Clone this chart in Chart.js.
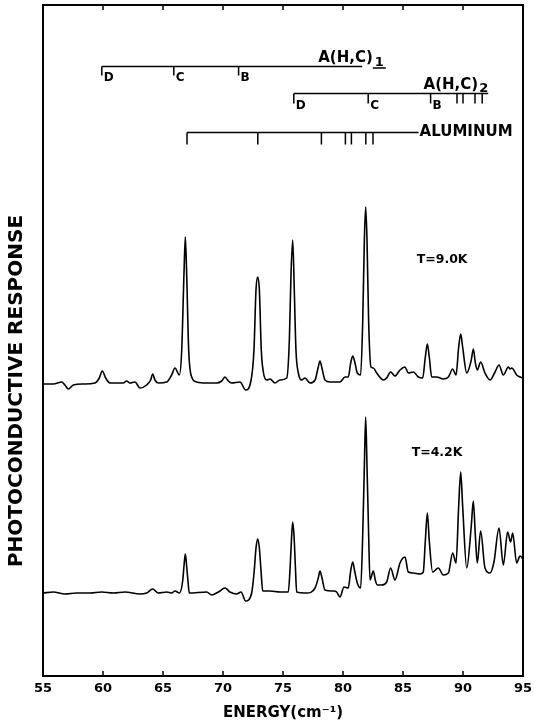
<!DOCTYPE html>
<html><head><meta charset="utf-8">
<script src="https://cdn.jsdelivr.net/npm/chart.js@4"></script>
<style>html,body{margin:0;padding:0;background:#fff}#wrap{width:534px;height:727px}</style>
</head><body><div id="wrap"><canvas id="c" width="534" height="727"></canvas></div>
<script>
// Photoconductive response spectra (arbitrary units, offset traces)
const energy9K = [55.0,55.86,56.56,56.83,57.11,57.53,58.36,59.33,59.69,59.94,
60.22,60.58,61.69,61.97,62.25,62.67,63.08,63.64,63.97,64.14,
64.33,64.61,65.31,65.72,66.0,66.36,66.56,66.75,66.86,66.97,
67.14,67.39,67.81,68.64,69.47,69.89,70.17,70.44,70.72,71.42,
71.89,72.31,72.58,72.75,72.89,73.03,73.19,73.36,73.64,73.92,
74.33,74.75,75.31,75.53,75.67,75.81,75.94,76.08,76.28,76.56,
76.83,77.25,77.67,77.94,78.08,78.28,78.5,78.92,79.75,80.17,
80.44,80.64,80.81,81.0,81.19,81.47,81.64,81.78,81.89,82.0,
82.14,82.33,82.53,82.81,83.36,83.64,83.97,84.33,84.75,85.17,
85.44,85.86,86.28,86.64,86.86,87.03,87.19,87.39,87.81,88.36,
88.78,89.14,89.42,89.64,89.81,89.97,90.31,90.69,90.86,91.03,
91.19,91.47,91.83,92.25,92.67,93.0,93.36,93.78,93.92,94.06,
94.47,94.75,95.0];
const response9K = [29.2,29.2,29.4,29.1,28.7,29.1,29.2,29.3,29.8,30.5,
29.8,29.3,29.3,29.5,29.3,29.4,28.8,29.1,29.6,30.2,
29.6,29.3,29.4,30.1,30.8,30.1,32.6,40.3,43.9,40.3,
32.6,29.9,29.4,29.3,29.3,29.5,29.9,29.5,29.3,29.4,
28.6,29.4,32.6,38.6,39.9,38.6,32.6,30.4,29.6,29.7,
29.3,29.6,29.8,33.6,40.3,43.6,38.6,32.6,30.3,29.6,
29.8,29.3,29.6,30.9,31.5,30.6,29.6,29.4,29.4,29.9,
29.9,31.3,32.0,31.3,30.3,30.1,35.3,43.6,46.9,43.6,
35.3,30.9,30.8,30.3,29.6,29.8,30.4,30.0,30.6,30.9,
30.3,30.4,29.9,29.8,31.9,33.2,31.9,29.9,29.9,29.7,
29.9,30.7,30.1,32.9,34.2,32.9,30.3,31.6,32.7,31.3,
30.6,31.4,30.3,29.6,30.4,31.1,30.1,30.9,30.7,30.8,
30.1,29.9,29.8];

const energy42K = [55.0,55.86,56.83,57.8,58.92,59.89,60.86,61.83,63.08,63.64,
64.14,64.61,65.31,65.72,66.0,66.36,66.64,66.75,66.86,66.97,
67.08,67.19,68.64,69.06,69.61,70.17,70.58,71.14,71.5,71.89,
72.39,72.6,72.75,72.89,73.03,73.17,73.31,73.92,74.75,75.44,
75.6,75.72,75.81,75.92,76.03,76.14,76.97,77.67,77.94,78.08,
78.25,78.5,79.19,79.47,79.75,80.08,80.44,80.64,80.81,80.97,
81.19,81.47,81.64,81.78,81.89,82.0,82.14,82.25,82.53,82.69,
82.86,83.22,83.64,83.97,84.33,84.75,85.17,85.44,85.86,86.42,
86.69,86.86,87.03,87.19,87.47,87.94,88.36,88.78,89.14,89.42,
89.64,89.81,89.97,90.31,90.69,90.86,91.03,91.19,91.47,91.83,
92.25,92.58,93.0,93.36,93.72,93.97,94.14,94.47,94.75,95.0];
const response42K = [8.3,8.4,8.2,8.3,8.3,8.4,8.3,8.4,8.2,8.3,
8.7,8.3,8.4,8.3,8.5,8.3,9.5,11.0,12.2,11.0,
9.5,8.3,8.4,8.1,8.4,8.8,8.4,8.2,8.4,7.5,
8.3,10.5,12.8,13.7,12.8,10.5,8.5,8.5,8.4,8.4,
11.0,14.0,15.4,14.0,11.0,8.4,8.3,8.8,9.8,10.5,
9.8,8.6,8.5,8.4,7.9,8.9,8.8,10.5,11.4,10.5,
9.3,8.8,14.0,21.0,25.9,21.0,14.0,9.6,10.5,9.6,
9.1,9.1,9.4,10.8,9.6,11.3,11.9,10.4,10.3,10.2,
10.4,13.5,16.3,13.5,10.4,10.8,10.1,10.3,12.3,11.3,
17.0,20.4,17.0,10.8,15.0,17.5,14.0,11.3,14.5,10.8,
10.3,11.4,14.8,11.1,14.4,13.4,14.3,11.3,12.0,11.7];

// Axis
const xMin = 55, xMax = 95, xStep = 5;
const yMin = 0, yMax = 67.1;

// Line-position markers (cm^-1)
const ahc1Ticks = [59.9, 65.9, 71.3];
const ahc1Labels = ['D', 'C', 'B'];
const ahc1End = 81.6;
const ahc1Level = 61.0;
const ahc2Ticks = [75.9, 82.1, 87.3, 89.5, 90.0, 91.0, 91.6];
const ahc2Labels = ['D', 'C', 'B'];
const ahc2End = 92.1;
const ahc2Level = 58.3;
const alTicks = [67.0, 72.9, 78.2, 80.2, 80.7, 81.9, 82.5];
const alEnd = 86.3;
const alLevel = 54.4;

const tempLabels = ['T=9.0K', 'T=4.2K'];
const tempLabelX = [86.14, 85.72];
const tempLabelY = [41.6, 22.3];

const FONT = '"DejaVu Sans", "Liberation Sans", Arial, sans-serif';

const toXY = (xs, ys) => xs.map((v, i) => ({x: v, y: ys[i]}));

const decor = {
  id: 'decor',
  afterDraw(chart) {
    const {ctx, chartArea: a, scales: {x, y}} = chart;
    ctx.save();
    ctx.strokeStyle = '#000';
    ctx.fillStyle = '#000';
    // frame
    ctx.lineWidth = 2;
    ctx.strokeRect(a.left, a.top, a.right - a.left, a.bottom - a.top);
    // inward ticks top & bottom
    ctx.lineWidth = 1.5;
    x.ticks.forEach(t => {
      if (t.value <= xMin || t.value >= xMax) return;
      const px = x.getPixelForValue(t.value);
      ctx.beginPath();
      ctx.moveTo(px, a.bottom); ctx.lineTo(px, a.bottom - 5);
      ctx.moveTo(px, a.top); ctx.lineTo(px, a.top + 5);
      ctx.stroke();
    });
    // y title
    ctx.save();
    ctx.translate(17, 391);
    ctx.rotate(-Math.PI / 2);
    ctx.font = 'bold 20px ' + FONT;
    ctx.textAlign = 'center';
    ctx.textBaseline = 'middle';
    ctx.fillText('PHOTOCONDUCTIVE RESPONSE', 0, 0);
    ctx.restore();

    function bar(start, end, level, ticks, labels, tickLen, labOff) {
      const yy = Math.round(y.getPixelForValue(level)) + 0.5;
      ctx.lineWidth = 1.5;
      ctx.beginPath();
      ctx.moveTo(x.getPixelForValue(start), yy);
      ctx.lineTo(x.getPixelForValue(end), yy);
      ctx.stroke();
      ticks.forEach((t, i) => {
        const xx = x.getPixelForValue(t);
        ctx.beginPath();
        ctx.moveTo(xx, yy); ctx.lineTo(xx, yy + tickLen);
        ctx.stroke();
        if (labels[i]) {
          ctx.font = 'bold 12px ' + FONT;
          ctx.textAlign = 'left';
          ctx.textBaseline = 'top';
          ctx.fillText(labels[i], xx + 2, yy + labOff);
        }
      });
      return yy;
    }
    // A(H,C)1
    const y1 = bar(ahc1Ticks[0], ahc1End, ahc1Level, ahc1Ticks, ahc1Labels, 9, 5);
    ctx.font = 'bold 15px ' + FONT;
    ctx.textAlign = 'left';
    ctx.textBaseline = 'alphabetic';
    const t1x = x.getPixelForValue(ahc1End) - 44;
    ctx.fillText('A(H,C)', t1x, y1 - 5);
    const w1 = ctx.measureText('A(H,C)').width;
    ctx.font = 'bold 13px ' + FONT;
    ctx.fillText('1', t1x + w1 + 2, y1 - 1);
    const s1 = ctx.measureText('1').width;
    ctx.beginPath();
    ctx.moveTo(t1x + w1, y1 + 1.5); ctx.lineTo(t1x + w1 + s1 + 4, y1 + 1.5);
    ctx.stroke();
    // A(H,C)2
    const y2 = bar(ahc2Ticks[0], ahc2End, ahc2Level, ahc2Ticks, ahc2Labels, 10, 6);
    ctx.font = 'bold 15px ' + FONT;
    ctx.textBaseline = 'alphabetic';
    const w2 = ctx.measureText('A(H,C)').width;
    ctx.font = 'bold 13px ' + FONT;
    const s2 = ctx.measureText('2').width;
    const t2x = x.getPixelForValue(ahc2End) - s2 - w2 - 1;
    ctx.fillText('2', t2x + w2 + 1, y2 - 2);
    ctx.font = 'bold 15px ' + FONT;
    ctx.fillText('A(H,C)', t2x, y2 - 5);
    // Aluminum
    const y3 = bar(alTicks[0], alEnd, alLevel, alTicks, [], 12, 0);
    ctx.font = 'bold 15px ' + FONT;
    ctx.textBaseline = 'middle';
    ctx.fillText('ALUMINUM', x.getPixelForValue(alEnd) + 1, y3);
    // temperatures
    ctx.font = 'bold 12.5px ' + FONT;
    tempLabels.forEach((s, i) => {
      ctx.fillText(s, x.getPixelForValue(tempLabelX[i]), y.getPixelForValue(tempLabelY[i]));
    });
    ctx.restore();
  }
};

new Chart(document.getElementById('c'), {
  type: 'line',
  data: {
    datasets: [
      {label: 'T=9.0K', data: toXY(energy9K, response9K), borderColor: '#000', borderWidth: 1.6, pointRadius: 0, fill: false, cubicInterpolationMode: 'monotone'},
      {label: 'T=4.2K', data: toXY(energy42K, response42K), borderColor: '#000', borderWidth: 1.6, pointRadius: 0, fill: false, cubicInterpolationMode: 'monotone'}
    ]
  },
  options: {
    responsive: false, animation: false, devicePixelRatio: 1,
    layout: {padding: {top: 5, right: 11, left: 0, bottom: 0}},
    plugins: {legend: {display: false}, tooltip: {enabled: false}},
    scales: {
      x: {
        type: 'linear', min: xMin, max: xMax,
        afterFit(s) { s.height = 51; s.paddingLeft = 0; s.paddingRight = 0; },
        border: {display: false},
        grid: {display: false, drawTicks: false},
        ticks: {stepSize: xStep, color: '#000', font: {family: FONT, weight: 'bold', size: 13}, padding: 5, maxRotation: 0, autoSkip: false},
        title: {display: true, text: 'ENERGY(cm⁻¹)', color: '#000', font: {family: FONT, weight: 'bold', size: 15}, padding: {top: 4, bottom: 5}}
      },
      y: {
        min: yMin, max: yMax,
        afterFit(s) { s.width = 43; },
        border: {display: false},
        grid: {display: false},
        ticks: {display: false}
      }
    }
  },
  plugins: [decor]
});
</script>
</body></html>
